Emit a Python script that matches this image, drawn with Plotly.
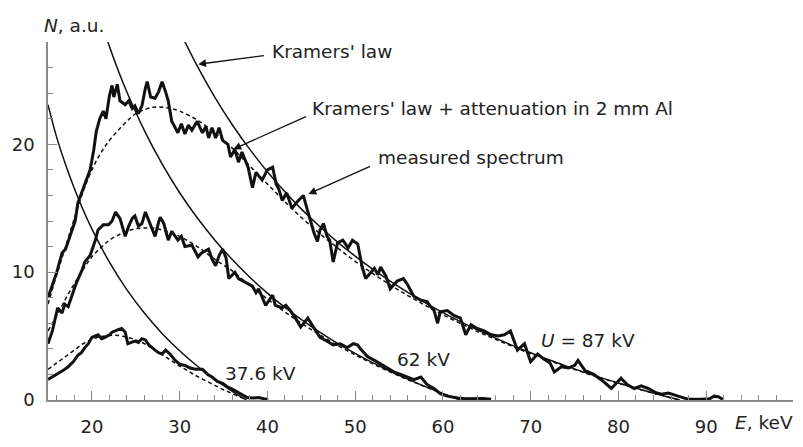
import plotly.graph_objects as go

# ---------------- data ----------------
# Kramers' law curves (thin solid)
k87_E = [30.3, 32, 34, 36, 38, 40, 42, 44, 46, 48, 50, 52, 54, 56, 58, 60, 62, 64, 66, 68, 70, 72, 74, 76, 78, 80, 82, 84, 86, 87]
k87_N = [28.44, 26.13, 23.69, 21.53, 19.60, 17.86, 16.29, 14.85, 13.55, 12.35, 11.25, 10.23, 9.29, 8.41, 7.60, 6.84, 6.13, 5.46, 4.84, 4.25, 3.69, 3.17, 2.67, 2.20, 1.75, 1.33, 0.93, 0.54, 0.18, 0.0]

k62_E = [21.6, 23, 24, 26, 28, 30, 32, 34, 36, 38, 40, 42, 44, 46, 48, 50, 52, 54, 56, 58, 60, 62]
k62_N = [28.43, 25.77, 24.07, 21.05, 18.46, 16.21, 14.25, 12.52, 10.98, 9.60, 8.36, 7.24, 6.22, 5.29, 4.43, 3.65, 2.92, 2.25, 1.63, 1.05, 0.51, 0.0]

k376_E = [15, 16, 17, 18, 19, 20, 22, 24, 26, 28, 30, 32, 34, 36, 37.6]
k376_N = [23.1, 20.52, 18.42, 16.55, 14.88, 13.38, 10.78, 8.61, 6.78, 5.21, 3.85, 2.66, 1.61, 0.68, 0.0]

# Kramers' law + attenuation in 2 mm Al (dashed)
a87_E = [15, 16, 17, 18, 19, 20, 21, 22, 23, 24, 25, 26, 27, 28, 29, 30, 32, 34, 36, 38, 40, 42, 44, 46, 48, 50, 52, 54, 56, 58, 60, 62, 64, 66, 68, 70, 72, 74, 76, 78, 80, 82, 84, 86, 87]
a87_N = [7.5, 9.8, 12.0, 14.2, 16.3, 18.0, 19.3, 20.3, 21.1, 21.8, 22.4, 22.7, 22.9, 22.9, 22.8, 22.6, 21.9, 20.9, 19.7, 18.3, 16.9, 15.5, 14.2, 13.0, 11.9, 10.85, 9.9, 9.0, 8.17, 7.4, 6.67, 5.99, 5.34, 4.74, 4.17, 3.62, 3.11, 2.62, 2.16, 1.72, 1.31, 0.92, 0.53, 0.18, 0.0]

a62_E = [15, 16, 17, 18, 19, 20, 21, 22, 23, 24, 25, 26, 27, 28, 30, 32, 34, 36, 38, 40, 42, 44, 46, 48, 50, 52, 54, 56, 58, 60, 62]
a62_N = [5.4, 6.6, 7.9, 9.1, 10.2, 11.2, 11.9, 12.5, 12.9, 13.2, 13.4, 13.45, 13.45, 13.3, 12.8, 12.0, 11.0, 10.1, 8.95, 7.9, 6.88, 5.95, 5.08, 4.27, 3.53, 2.84, 2.19, 1.59, 1.03, 0.5, 0.0]

a376_E = [15, 16, 17, 18, 19, 20, 21, 22, 23, 24, 25, 26, 27, 28, 29, 30, 31, 32, 33, 34, 35, 36, 37, 37.6]
a376_N = [2.4, 2.9, 3.4, 3.9, 4.4, 4.75, 4.95, 5.05, 5.05, 4.9, 4.7, 4.4, 4.0, 3.55, 3.1, 2.65, 2.25, 1.85, 1.5, 1.15, 0.8, 0.5, 0.2, 0.0]

# Measured spectra (thick, noisy)
m87_E = [15.0, 15.5, 16.0, 16.6, 17.0, 17.5, 18.1, 18.4, 19.2, 19.8, 20.2, 20.5, 20.9, 21.3, 21.6, 22.0, 22.3, 22.5, 22.9, 23.2,
         23.8, 24.2, 24.6, 24.9, 25.3, 25.7, 26.1, 26.3, 26.7, 27.2, 27.6, 28.0, 28.4, 28.7, 29.1, 29.5, 29.8, 30.2, 30.6, 31.0,
         31.4, 32.0, 32.6, 33.0, 33.3, 33.7, 34.1, 34.5, 34.9, 35.5, 35.8, 36.3, 36.7, 37.1, 37.8, 38.3, 38.7, 39.4, 40.0, 40.6,
         41.0, 41.3, 41.7, 42.2, 42.8, 43.4, 44.1, 44.5, 44.9, 45.3, 45.7, 46.0, 46.4, 46.8, 47.1, 47.5, 48.0, 48.6, 49.2, 49.7,
         50.3, 50.6, 50.8, 51.2, 51.6, 52.2, 52.6, 52.9, 53.5, 54.0, 54.8, 55.5, 55.9, 56.7, 57.5, 58.2, 58.6, 59.0, 59.4, 59.7,
         60.5, 61.3, 62.0, 62.6, 63.2, 63.9, 64.7, 65.5, 66.3, 67.0, 67.7, 68.5, 69.3, 70.0, 70.8, 71.5, 72.2, 72.7, 73.5, 74.3,
         75.0, 75.4, 76.2, 77.2, 78.2, 79.2, 80.3, 81.0, 81.8, 82.6, 83.4, 84.2, 84.9, 85.7, 86.8, 88.0, 89.5, 90.4, 90.9, 91.4, 91.9]
m87_N = [8.0, 9.0, 10.0, 11.5, 11.8, 12.8, 14.0, 15.4, 16.9, 18.0, 19.5, 21.0, 22.0, 22.6, 22.0, 23.8, 24.6, 23.7, 24.7, 23.4,
         23.1, 23.4, 22.8, 23.0, 22.4, 23.0, 24.4, 24.9, 23.7, 23.6, 24.1, 24.9, 24.1, 23.4, 21.8, 21.3, 20.9, 21.6, 20.8, 21.5,
         21.1, 21.8, 20.9, 21.4, 20.5, 21.3, 20.5, 21.3, 20.3, 20.0, 19.0, 19.6, 18.6, 19.4, 18.2, 16.6, 17.8, 17.2, 18.0, 18.2,
         16.9, 16.5, 15.6, 16.2, 15.0, 15.5, 16.0, 15.0, 14.0, 13.1, 12.4, 13.3, 13.8, 12.8, 12.5, 10.8, 12.3, 12.5, 11.9, 12.5,
         12.2, 11.2, 10.4, 9.5, 9.8, 10.3, 9.8, 10.4, 9.7, 8.7, 9.3, 9.5, 9.1, 8.1, 7.8, 7.7, 7.3, 7.0, 6.0, 6.9,
         7.0, 6.6, 6.4, 5.1, 5.9, 5.6, 5.4, 5.1, 5.0, 5.1, 5.4, 3.9, 4.4, 3.0, 3.6, 3.2, 2.9, 2.2, 2.6, 2.5,
         2.7, 3.1, 2.3, 2.0, 1.5, 0.9, 1.7, 1.2, 0.9, 1.1, 0.9, 0.6, 0.45, 0.55, 0.3, 0.05, 0.05, 0.1, 0.3, 0.25, 0.05]

m62_E = [15.0, 15.5, 16.1, 16.6, 16.9, 17.3, 17.9, 18.2, 18.9, 19.2, 19.8, 20.4, 20.7, 21.3, 21.9, 22.3, 22.7, 23.2, 23.8, 24.2,
         24.6, 24.9, 25.3, 25.7, 26.1, 26.6, 27.2, 27.6, 27.8, 28.2, 28.7, 29.1, 29.8, 30.2, 30.6, 31.4, 32.1, 32.5, 33.3, 33.7,
         34.1, 34.5, 34.9, 35.3, 35.6, 36.3, 36.7, 37.5, 38.3, 38.7, 39.0, 39.8, 40.6, 40.9, 41.7, 42.1, 42.6, 43.2, 43.8, 44.6,
         45.3, 46.0, 46.8, 47.5, 48.3, 49.1, 49.8, 50.3, 50.6, 51.4, 52.2, 52.9, 53.7, 54.4, 55.2, 56.0, 56.7, 57.5, 58.2, 59.0,
         59.7, 60.5, 61.7, 62.6, 63.6, 64.5, 65.5]
m62_N = [4.4, 5.4, 7.2, 6.8, 7.5, 7.3, 8.5, 9.1, 10.2, 10.8, 11.3, 12.5, 13.3, 13.7, 13.7, 14.0, 14.7, 14.2, 12.8, 13.6,
         14.2, 14.4, 13.6, 13.8, 14.7, 13.9, 12.8, 13.9, 14.3, 13.8, 12.5, 13.2, 12.5, 12.8, 12.0, 12.1, 11.2, 11.5, 11.8, 11.0,
         10.5, 11.3, 11.8, 11.1, 9.5, 10.0, 9.5, 9.2, 8.9, 8.4, 8.7, 7.4, 8.2, 7.4, 7.2, 7.4, 7.0, 6.4, 5.7, 6.4,
         5.7, 4.9, 4.6, 4.3, 4.4, 4.1, 4.4, 4.3, 4.0, 3.4, 3.1, 2.8, 2.5, 2.2, 2.0, 1.8, 1.6, 1.8, 1.2, 0.9,
         0.5, 0.3, 0.15, 0.1, 0.1, 0.12, 0.05]

m376_E = [15.0, 15.5, 16.1, 16.7, 17.3, 17.9, 18.4, 18.8, 19.2, 19.6, 20.0, 20.7, 21.1, 21.5, 22.0, 22.3, 23.0, 23.4, 23.8, 24.1,
          24.5, 24.9, 25.3, 25.7, 26.1, 26.5, 27.2, 27.6, 28.0, 28.4, 28.9, 29.5, 30.0, 30.6, 31.2, 31.8, 32.6, 33.2, 33.7, 34.3,
          34.9, 35.5, 36.0, 36.6, 37.1, 37.7, 38.3, 39.0, 39.6, 40.1]
m376_N = [1.6, 1.8, 2.1, 2.3, 2.6, 3.0, 3.5, 3.7, 4.1, 4.4, 4.9, 5.1, 4.8, 4.9, 5.1, 5.3, 5.5, 5.6, 5.3, 4.4,
          4.5, 4.6, 4.5, 4.8, 4.7, 4.3, 3.9, 3.7, 3.6, 3.9, 3.6, 3.1, 2.8, 2.7, 2.5, 2.4, 2.4, 2.0, 1.8, 1.45,
          1.3, 1.0, 0.85, 0.6, 0.45, 0.2, 0.15, 0.2, 0.1, 0.05]

x_ticks = [20, 30, 40, 50, 60, 70, 80, 90]
y_ticks = [0, 10, 20]

FONT = "DejaVu Sans"
AX = "#8a8a8a"

fig = go.Figure()

for E, N in [(k376_E, k376_N), (k62_E, k62_N), (k87_E, k87_N)]:
    fig.add_trace(go.Scatter(x=E, y=N, mode="lines", line=dict(color="#111", width=1.5, shape="spline"),
                             showlegend=False, hoverinfo="skip"))
for E, N in [(a376_E, a376_N), (a62_E, a62_N), (a87_E, a87_N)]:
    fig.add_trace(go.Scatter(x=E, y=N, mode="lines",
                             line=dict(color="#111", width=1.5, dash="4px,3px", shape="spline"),
                             showlegend=False, hoverinfo="skip"))
for E, N in [(m376_E, m376_N), (m62_E, m62_N), (m87_E, m87_N)]:
    fig.add_trace(go.Scatter(x=E, y=N, mode="lines", line=dict(color="#111", width=3),
                             showlegend=False, hoverinfo="skip"))

fig.update_layout(
    width=803, height=447, autosize=False,
    margin=dict(l=48, r=10, t=42, b=38),
    paper_bgcolor="white", plot_bgcolor="white",
    font=dict(family=FONT, size=18, color="#222"),
    showlegend=False,
    xaxis=dict(range=[15, 99.9], tickmode="array", tickvals=x_ticks, ticktext=[str(v) for v in x_ticks],
               ticks="inside", ticklen=9, tickwidth=1.3, tickcolor=AX,
               showline=True, linecolor=AX, linewidth=1.5, showgrid=False, zeroline=False,
               tickfont=dict(family=FONT, size=18, color="#222"), ticklabelstandoff=10,
               minor=dict(tickmode="linear", tick0=0, dtick=2, ticks="inside", ticklen=5,
                          tickwidth=1.2, tickcolor=AX, showgrid=False)),
    yaxis=dict(range=[0, 28], tickmode="array", tickvals=y_ticks, ticktext=[str(v) for v in y_ticks],
               ticks="inside", ticklen=9, tickwidth=1.3, tickcolor=AX,
               showline=True, linecolor=AX, linewidth=1.5, showgrid=False, zeroline=False,
               tickfont=dict(family=FONT, size=18, color="#222"), ticklabelstandoff=8,
               minor=dict(tickmode="linear", tick0=0, dtick=2, ticks="inside", ticklen=5,
                          tickwidth=1.2, tickcolor=AX, showgrid=False)),
)

def label(text, x, y, xref="x", yref="y", anchor="left"):
    fig.add_annotation(text=text, x=x, y=y, xref=xref, yref=yref, showarrow=False,
                       xanchor=anchor, yanchor="middle", font=dict(family=FONT, size=18.5, color="#222"))

def arrow(tip_x, tip_y, tail_x, tail_y):
    fig.add_annotation(text="", x=tip_x, y=tip_y, ax=tail_x, ay=tail_y, xref="x", yref="y",
                       axref="x", ayref="y", showarrow=True, arrowhead=2, arrowsize=1.2,
                       arrowwidth=1.3, arrowcolor="#111", standoff=0, startstandoff=0)

label("<i>N</i>, a.u.", -0.008, 1.046, xref="paper", yref="paper")
label("<i>E</i>, keV", 0.919, -0.063, xref="paper", yref="paper")

label("Kramers' law", 40.34, 27.25)
label("Kramers' law + attenuation in 2 mm Al", 44.91, 22.82)
label("measured spectrum", 52.33, 19.0)
label("<i>U</i> = 87 kV", 70.94, 4.66)
label("62 kV", 54.6, 3.13)
label("37.6 kV", 34.98, 2.06)

arrow(32.12, 26.26, 39.77, 26.95)
arrow(36.12, 19.62, 44.57, 22.21)
arrow(44.68, 16.11, 51.87, 18.32)

fig.write_html("out.html")
